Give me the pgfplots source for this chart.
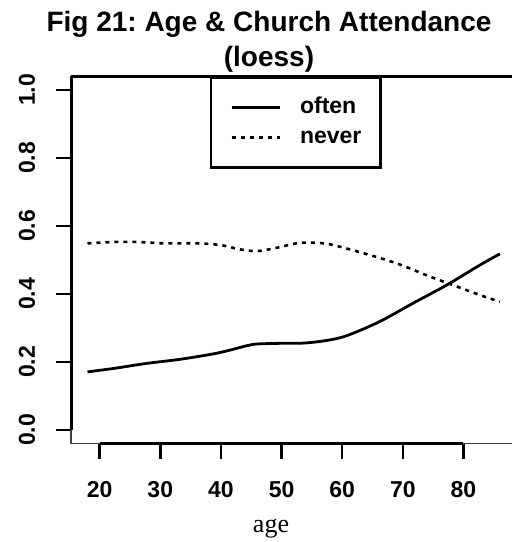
\documentclass[border=0pt]{standalone}
\usepackage{pgfplots}
\pgfplotsset{compat=1.18}
\usepackage{fontspec}
\setmainfont{Liberation Sans}
\newfontfamily\seriffont{Liberation Serif}
\frenchspacing

% loess curves
\pgfplotstableread{
age  val
18   0.171
22.3 0.181
27.8 0.196
33.3 0.208
38.8 0.224
41.5 0.235
44.3 0.248
46   0.253
50   0.255
54   0.256
58   0.265
61   0.279
66.2 0.319
71.7 0.373
77.2 0.426
82.7 0.485
86   0.518
}\often
\pgfplotstableread{
age  val
18   0.549
22.3 0.553
26.2 0.553
30.5 0.549
36   0.549
39.9 0.544
43.2 0.531
45.9 0.526
48.7 0.534
52.5 0.549
55   0.551
58   0.546
63.5 0.520
69   0.490
74.5 0.451
78.3 0.426
82.7 0.397
86   0.377
}\never

\begin{document}
\begin{tikzpicture}
\path[use as bounding box] (0,0) rectangle (512bp,542bp);
\begin{axis}[
  at={(71bp,98.4bp)}, anchor=south west,
  scale only axis, width=441bp, height=367.2bp,
  xmin=15.28, xmax=88, ymin=-0.04, ymax=1.04,
  axis line style={draw=none},
  tick pos=left, tick align=outside,
  major tick length=15bp,
  tick style={line width=2.5bp, black},
  xtick={20,30,...,80},
  ytick={0,0.2,0.4,0.6,0.8,1.0},
  yticklabels={0.0,0.2,0.4,0.6,0.8,1.0},
  /pgf/number format/assume math mode=true,
  ticklabel style={font=\fontsize{23bp}{23bp}\selectfont\bfseries},
  xticklabel style={anchor=center, yshift=-31bp},
  yticklabel style={rotate=90, anchor=center, yshift=29bp},
  legend image code/.code={\draw[#1] (0bp,0bp) -- (48bp,0bp);},
  legend style={at={(axis cs:38.2,1.04)}, anchor=north west,
    draw=black, line width=2.5bp, fill=white,
    inner xsep=19bp, inner ysep=15bp, row sep=0pt,
    font=\fontsize{23bp}{23bp}\selectfont\bfseries,
    nodes={inner sep=0pt, minimum height=30bp, text height=17bp, text depth=5bp},
    /tikz/every odd column/.append style={column sep=19bp}},
  legend cell align=left,
  clip=false
]
\draw[line width=1.4bp, black!75] (rel axis cs:0,1) -- (rel axis cs:0,0) -- (rel axis cs:1,0);
\draw[line width=3bp] (rel axis cs:0,1) -- (axis cs:15.28,0);
\draw[line width=2.6bp] (axis cs:20,-0.04) -- (axis cs:80,-0.04);
\draw[line width=2.8bp] (rel axis cs:0,1) -- (rel axis cs:1,1);
\addplot[black, line width=2.8bp, smooth, no marks] table[x=age,y=val] {\often};
\addplot[black, line width=2.6bp, dash pattern=on 4bp off 5bp, smooth, no marks] table[x=age,y=val] {\never};
\legend{often,never}
\end{axis}
\node[anchor=base, font=\fontsize{28bp}{28bp}\selectfont\bfseries] at (269bp,510bp) {Fig 21: Age \& Church Attendance};
\node[anchor=base, font=\fontsize{28bp}{28bp}\selectfont\bfseries] at (269bp,475bp) {(loess)};
\node[anchor=base, font=\seriffont\fontsize{26bp}{26bp}\selectfont] at (271bp,10bp) {age};
\end{tikzpicture}
\end{document}
